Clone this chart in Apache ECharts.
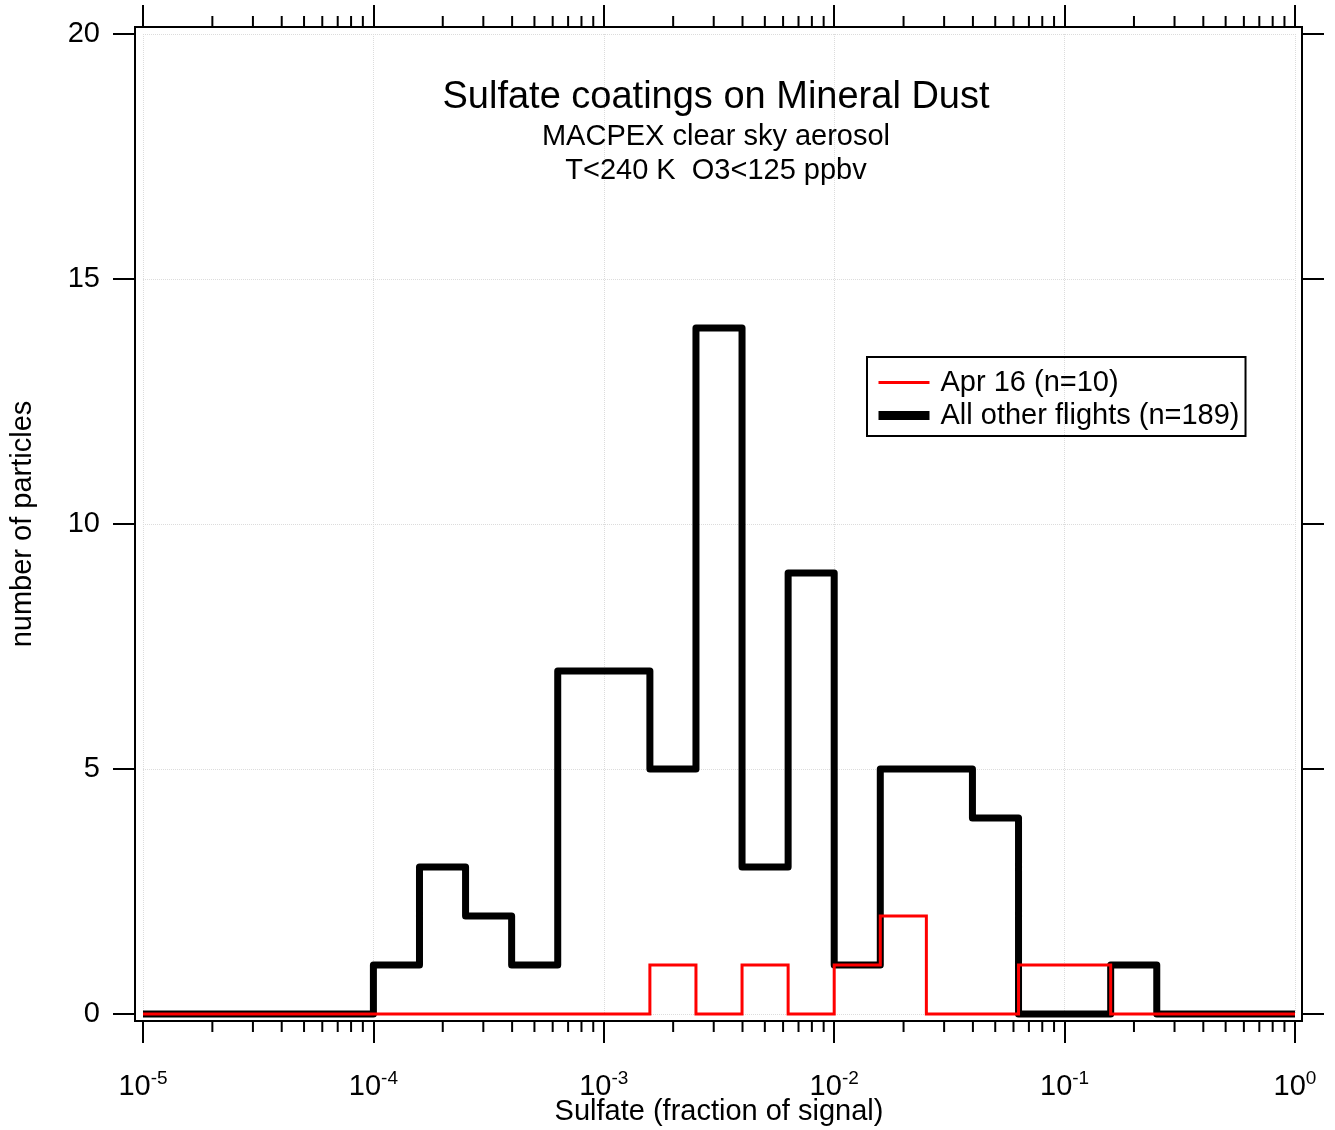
<!DOCTYPE html>
<html>
<head>
<meta charset="utf-8">
<script src="https://cdn.jsdelivr.net/npm/echarts@6/dist/echarts.min.js"></script>
<style>
html,body{margin:0;padding:0;background:#fff;}
#chart{width:1335px;height:1130px;}
</style>
</head>
<body>
<div id="chart"></div>
<script>
// Bin edges (fraction of signal): first interval 1e-5..1e-4, then 0.2-decade bins, last interval to 1
var binEdges = [1e-5, 1e-4, 1.585e-4, 2.512e-4, 3.981e-4, 6.310e-4, 1e-3, 1.585e-3, 2.512e-3, 3.981e-3,
                6.310e-3, 1e-2, 1.585e-2, 2.512e-2, 3.981e-2, 6.310e-2, 0.1, 0.1585, 0.2512, 1];
// counts per interval (19 intervals)
var otherFlights = [0, 1, 3, 2, 1, 7, 7, 5, 14, 3, 9, 1, 5, 5, 4, 0, 0, 1, 0];
var apr16        = [0, 0, 0, 0, 0, 0, 0, 1, 0, 1, 0, 1, 2, 0, 0, 1, 1, 0, 0];
var yTicks = [0, 5, 10, 15, 20];
var minorMantissas = [2, 3, 4, 5, 6, 7, 8, 9];
var minorDecades = [1e-5, 1e-4, 1e-3, 1e-2, 1e-1];

var NAME_RED = 'Apr 16 (n=10)';
var NAME_BLACK = 'All other flights (n=189)';
var FONT = '"Liberation Sans", Arial, sans-serif';

function stepData(counts) {
  var d = [];
  for (var i = 0; i < counts.length; i++) d.push([binEdges[i], counts[i]]);
  d.push([binEdges[binEdges.length - 1], counts[counts.length - 1]]);
  return d;
}
var minorTicks = [];
minorDecades.forEach(function (dec) {
  minorMantissas.forEach(function (m) { minorTicks.push([m * dec, 0]); });
});

var chart = echarts.init(document.getElementById('chart'), null, {renderer: 'canvas'});
var option = {
  backgroundColor: '#fff',
  animation: false,
  textStyle: {fontFamily: FONT, color: '#000'},
  title: [
    {text: 'Sulfate coatings on Mineral Dust', left: 716, top: 78, textAlign: 'center', padding: 0,
     textStyle: {fontFamily: FONT, fontSize: 38, fontWeight: 'normal', color: '#000', lineHeight: 40}},
    {text: 'MACPEX clear sky aerosol', left: 716, top: 121, textAlign: 'center', padding: 0,
     textStyle: {fontFamily: FONT, fontSize: 29, fontWeight: 'normal', color: '#000', lineHeight: 32}},
    {text: 'T<240 K  O3<125 ppbv', left: 716, top: 155, textAlign: 'center', padding: 0,
     textStyle: {fontFamily: FONT, fontSize: 29, fontWeight: 'normal', color: '#000', lineHeight: 32}}
  ],
  legend: {
    data: [
      {name: NAME_RED, lineStyle: {width: 3, color: '#ff0000'}},
      {name: NAME_BLACK, lineStyle: {width: 9, color: '#000'}}
    ],
    orient: 'vertical',
    left: 867, top: 357,
    padding: [11, 6, 6, 7],
    borderColor: '#000', borderWidth: 2,
    itemWidth: 51, itemHeight: 14, itemGap: 4,
    selectedMode: false,
    itemStyle: {opacity: 0},
    textStyle: {fontFamily: FONT, fontSize: 29, color: '#000', lineHeight: 29, padding: [0, 0, 0, 6]}
  },
  grid: [
    {left: 143, right: 40, top: 34, bottom: 116, show: false, containLabel: false, outerBoundsMode: 'none'},
    {left: 135, right: 33, top: 27, bottom: 109, show: true, borderColor: '#000', borderWidth: 2,
     backgroundColor: 'transparent', containLabel: false, outerBoundsMode: 'none'}
  ],
  xAxis: [
    {
      type: 'log', logBase: 10, min: 1e-5, max: 1, splitNumber: 5, gridIndex: 0,
      position: 'bottom', offset: 7,
      name: 'Sulfate (fraction of signal)', nameLocation: 'middle', nameGap: 76, nameMoveOverlap: false,
      nameTextStyle: {fontFamily: FONT, fontSize: 29, color: '#000'},
      axisLine: {show: false, onZero: false},
      axisTick: {show: true, inside: false, length: 22, lineStyle: {color: '#000', width: 2}},
      splitLine: {show: true, lineStyle: {color: '#dcdcdc', width: 1, type: 'dotted'}},
      axisLabel: {
        show: true, margin: 48, showMinLabel: true, showMaxLabel: true,
        formatter: function (v) {
          var e = Math.round(Math.log10(v));
          return '{b|10}{s|' + e + '}';
        },
        rich: {
          b: {fontFamily: FONT, fontSize: 29, lineHeight: 36, color: '#000'},
          s: {fontFamily: FONT, fontSize: 19, lineHeight: 12, verticalAlign: 'top', color: '#000'}
        }
      }
    },
    {
      type: 'log', logBase: 10, min: 1e-5, max: 1, splitNumber: 5, gridIndex: 0,
      position: 'top', offset: 7,
      axisLine: {show: false, onZero: false},
      axisTick: {show: true, inside: false, length: 22, lineStyle: {color: '#000', width: 2}},
      splitLine: {show: false},
      axisLabel: {show: false}
    },
    {type: 'value', gridIndex: 1, show: false, min: 0, max: 1, axisLine: {onZero: false}}
  ],
  yAxis: [
    {
      type: 'value', min: 0, max: 20, interval: 5, gridIndex: 0,
      position: 'left', offset: 8,
      name: 'number of particles', nameLocation: 'middle', nameGap: 98, nameMoveOverlap: false,
      nameTextStyle: {fontFamily: FONT, fontSize: 29, color: '#000'},
      axisLine: {show: false, onZero: false},
      axisTick: {show: true, inside: false, length: 22, lineStyle: {color: '#000', width: 2}},
      splitLine: {show: true, lineStyle: {color: '#dcdcdc', width: 1, type: 'dotted'}},
      axisLabel: {show: true, margin: 35, fontFamily: FONT, fontSize: 29, color: '#000',
                  formatter: function (v) { return yTicks.indexOf(v) >= 0 ? String(v) : ''; }}
    },
    {
      type: 'value', min: 0, max: 20, interval: 5, gridIndex: 0,
      position: 'right', offset: 7,
      axisLine: {show: false, onZero: false},
      axisTick: {show: true, inside: false, length: 22, lineStyle: {color: '#000', width: 2}},
      splitLine: {show: false},
      axisLabel: {show: false}
    },
    {type: 'value', gridIndex: 1, show: false, min: 0, max: 1, axisLine: {onZero: false}}
  ],
  series: [
    {
      name: NAME_BLACK, type: 'line', step: 'end', xAxisIndex: 0, yAxisIndex: 0,
      data: stepData(otherFlights), symbol: 'none', showSymbol: false,
      lineStyle: {color: '#000', width: 7, join: 'round', cap: 'butt'},
      itemStyle: {color: '#000'},
      clip: false, z: 3
    },
    {
      name: NAME_RED, type: 'line', step: 'end', xAxisIndex: 0, yAxisIndex: 0,
      data: stepData(apr16), symbol: 'none', showSymbol: false,
      lineStyle: {color: '#ff0000', width: 3, join: 'miter', cap: 'butt'},
      itemStyle: {color: '#ff0000'},
      clip: false, z: 4
    },
    {
      type: 'custom', xAxisIndex: 0, yAxisIndex: 0, silent: true, clip: false,
      data: minorTicks,
      renderItem: function (params, api) {
        var x = api.coord([api.value(0), 0])[0];
        var cs = params.coordSys;
        var yb = cs.y + cs.height + 7;
        var yt = cs.y - 7;
        return {
          type: 'group',
          children: [
            {type: 'line', shape: {x1: x, y1: yb, x2: x, y2: yb + 11}, style: {stroke: '#000', lineWidth: 2}},
            {type: 'line', shape: {x1: x, y1: yt, x2: x, y2: yt - 11}, style: {stroke: '#000', lineWidth: 2}}
          ]
        };
      }
    }
  ]
};
chart.setOption(option);
</script>
</body>
</html>
